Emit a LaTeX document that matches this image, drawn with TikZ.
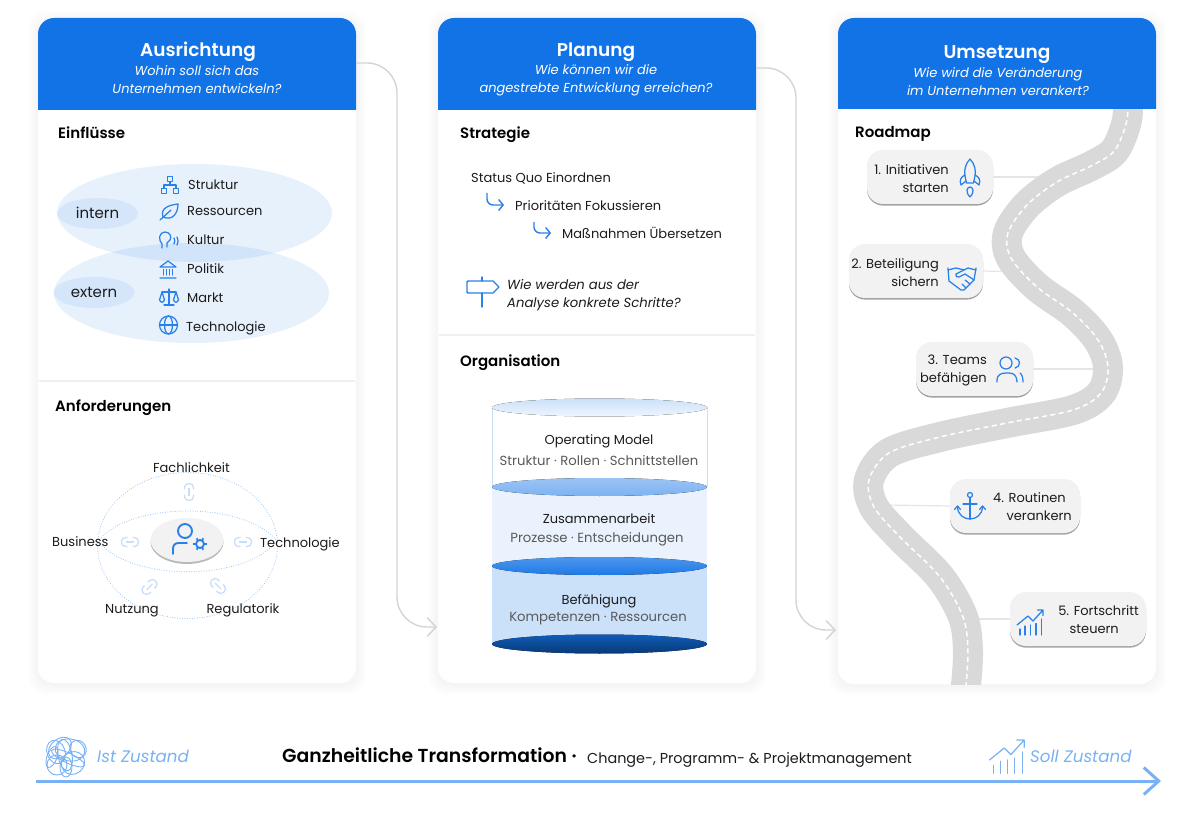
\documentclass[tikz,border=0pt]{standalone}
\usepackage{fontspec}
\setmainfont{Poppins}[BoldFont={Poppins SemiBold}]
\usepackage{tikz}
\usetikzlibrary{arrows.meta,shapes,shadows}
\definecolor{headblue}{HTML}{1273E6}
\definecolor{iconblue}{HTML}{2A80EA}
\definecolor{softblue}{HTML}{78B2F5}
\definecolor{palelink}{HTML}{C9DFF7}
\definecolor{roadgray}{HTML}{D9D9D9}
\definecolor{inktext}{HTML}{1C1C1C}
\tikzstyle{card}=[rectangle, fill=white, rounded corners=16pt, minimum width=318pt, inner sep=0pt]
\tikzstyle{heading}=[text=white, font=\fontsize{18.5}{20}\selectfont\bfseries, inner sep=0pt, text height=16pt, text depth=3pt]
\tikzstyle{question}=[text=white, align=center, font=\fontsize{13}{18}\selectfont\itshape, inner sep=0pt]
\tikzstyle{section}=[anchor=west, text=black, font=\fontsize{15}{16}\selectfont\bfseries, inner sep=0pt, text height=13pt, text depth=2pt]
\tikzstyle{item}=[anchor=west, text=inktext, font=\fontsize{13}{15}\selectfont, inner sep=0pt, text height=12pt, text depth=1pt]
\tikzstyle{itemc}=[text=inktext, font=\fontsize{13}{15}\selectfont, inner sep=0pt, text height=12pt, text depth=1pt]
\tikzstyle{tag}=[text=inktext, font=\fontsize{15}{17}\selectfont, inner sep=0pt, text height=12pt, text depth=1pt]
\tikzstyle{subitem}=[text=black!65, font=\fontsize{13.2}{15}\selectfont, inner sep=0pt, text height=12pt, text depth=1pt]
\tikzstyle{stepline}=[anchor=east, text=inktext, font=\fontsize{13}{15}\selectfont, inner sep=0pt, text height=12pt, text depth=1pt]
\tikzstyle{askline}=[anchor=west, text=inktext, align=left, font=\fontsize{13.2}{18}\selectfont\itshape, inner sep=0pt]
\tikzstyle{softlabel}=[anchor=west, text=softblue, font=\fontsize{16.7}{18}\selectfont\itshape, inner sep=0pt, text height=15pt, text depth=2pt]
\tikzstyle{blob}=[ellipse, fill=iconblue, fill opacity=.11, text opacity=1, inner sep=0pt]
\tikzstyle{smallblob}=[blob, fill opacity=.09, minimum width=81pt, minimum height=31pt]
\tikzstyle{dotline}=[draw=softblue!85, line width=1pt, line cap=round, dash pattern=on 0pt off 2.5pt]
\tikzstyle{divider}=[draw=black!6, line width=1.2pt]
\tikzstyle{flow}=[draw=black!17, line width=1.4pt, rounded corners=30pt, -{Straight Barb[length=9pt,width=19pt]}]
\tikzstyle{turn}=[draw=iconblue, line width=1.4pt, rounded corners=6pt, -{Straight Barb[length=4.5pt,width=11pt]}]
\tikzstyle{spur}=[draw=black!10, line width=1.2pt]
\tikzstyle{roadbed}=[draw=roadgray, line width=30pt]
\tikzstyle{roadline}=[draw=white, line width=1.5pt, dash pattern=on 5pt off 3.5pt]
\tikzstyle{bubble}=[rectangle, fill=black!5, rounded corners=16pt, minimum height=54pt, inner sep=0pt,
	drop shadow={shadow xshift=0pt, shadow yshift=-1.6pt, fill=black!55, opacity=.65}]
\tikzstyle{iconline}=[draw=iconblue, line width=1.25pt, line join=round, line cap=round]
\tikzstyle{linkline}=[draw=palelink, line width=1.3pt]
\tikzstyle{softline}=[draw=softblue, line width=.9pt]
\tikzset{
	orgicon/.pic={
		\draw[iconline] (-2.5,-8.5) rectangle (2.5,-3.5) (-8.5,3.5) rectangle (-3.5,8.5) (3.5,3.5) rectangle (8.5,8.5);
		\draw[iconline] (0,-3.5) -- (0,0) (-6,3.5) -- (-6,0) -- (6,0) -- (6,3.5);
	},
	leaficon/.pic={
		\draw[iconline] (-6,5) .. controls (-9,-4) and (0,-7) .. (9,-8) .. controls (9,2) and (3,9) .. (-6,5);
		\draw[iconline] (-9,8) -- (2,-2);
	},
	headicon/.pic={
		\draw[iconline] (-5,8) -- (-5,4) .. controls (-9,0) and (-8,-8) .. (-2,-8) .. controls (3,-8) and (5,-3) .. (3,0) -- (0,3) -- (0,7);
		\draw[iconline] (7,-2) .. controls (8,0) and (8,2) .. (7,4) (10,-3) .. controls (11.5,0) and (11.5,2) .. (10,5);
	},
	bankicon/.pic={
		\draw[iconline] (-8,-3) -- (0,-9) -- (8,-3) -- cycle (-8,8) -- (8,8);
		\foreach \x in {-4.5,-1.5,1.5,4.5} \draw[iconline] (\x,-.5) -- (\x,5);
	},
	scaleicon/.pic={
		\draw[iconline] (0,-8) -- (0,7) (-5,8) -- (5,8) (-7,-5) -- (7,-5);
		\draw[iconline] (-7,-5) -- (-9.5,3) .. controls (-8,6) and (-6,6) .. (-4.5,3) -- cycle;
		\draw[iconline] (7,-5) -- (9.5,3) .. controls (8,6) and (6,6) .. (4.5,3) -- cycle;
	},
	globeicon/.pic={
		\draw[iconline] (0,0) circle [radius=9];
		\draw[iconline] (0,0) ellipse [x radius=4, y radius=9];
		\draw[iconline] (-9,0) -- (9,0);
	},
	linkicon/.pic={
		\draw[linkline, rounded corners=4pt] (-2.5,-4.5) -- (-8.5,-4.5) -- (-8.5,4.5) -- (-2.5,4.5);
		\draw[linkline, rounded corners=4pt] (2.5,-4.5) -- (8.5,-4.5) -- (8.5,4.5) -- (2.5,4.5);
		\draw[linkline] (-4,0) -- (4,0);
	},
	rocketicon/.pic={
		\draw[iconline] (0,-19) .. controls (-5,-14) and (-6,-7) .. (-5,-2) -- (-3.5,5) -- (3.5,5) -- (5,-2) .. controls (6,-7) and (5,-14) .. (0,-19);
		\draw[iconline] (-5,-3) .. controls (-9,-1) and (-11,2) .. (-9,7) -- (-4,3) (5,-3) .. controls (9,-1) and (11,2) .. (9,7) -- (4,3);
		\draw[iconline] (0,19) .. controls (-5,14) and (-3,9) .. (0,9) .. controls (3,9) and (5,14) .. (0,19);
	},
	shakeicon/.pic={
		\draw[iconline] (-14,-9) -- (-13,4) -- (-1,13) .. controls (1,14) and (3,13) .. (4,11) -- (12,3) -- (14,-9);
		\draw[iconline] (-14,-7) -- (-6,-9) -- (2,-7) -- (6,-9) -- (14,-7);
		\draw[iconline] (2,-7) -- (-6,-3) .. controls (-7,-1) and (-5,1) .. (-3,0) -- (3,-3) -- (12,3);
		\draw[iconline] (8,7) -- (3,3) (4,11) -- (0,7);
	},
	usersicon/.pic={
		\draw[iconline] (-4,-7) circle [radius=6];
		\draw[iconline] (5,-12) .. controls (11,-11) and (11,-3) .. (5,-2);
		\draw[iconline] (-13,12) -- (-13,10) .. controls (-13,5) and (-9,3) .. (-4,3) -- (-1,3) .. controls (4,3) and (7,6) .. (7,12);
		\draw[iconline] (10,3) .. controls (12,4) and (13,8) .. (13,12);
	},
	anchoricon/.pic={
		\draw[iconline] (0,-10) circle [radius=2.5];
		\draw[iconline] (0,-7.5) -- (0,14) (-7,-1) -- (7,-1);
		\draw[iconline] (-12.5,2) .. controls (-12,10) and (-6,14) .. (0,14) .. controls (6,14) and (12,10) .. (12.5,2);
		\draw[iconline] (-15.5,4.5) -- (-12.5,1) -- (-9.5,4.5) (15.5,4.5) -- (12.5,1) -- (9.5,4.5);
	},
	growthicon/.pic={
		\draw[iconline] (-12,3) -- (-1,-6) -- (4,-1) -- (14,-12) (8.5,-12) -- (14,-12) -- (14,-6.5);
		\foreach \x/\y in {-9/7, -4/4, 1.5/3, 7/1.5, 12.5/-3} \draw[iconline] (\x,\y) -- (\x,13);
	},
}

\begin{document}
\begin{tikzpicture}[x=1pt, y=-1pt]
	\useasboundingbox (0,0) rectangle (1203,834);
	
	% First we draw the soft shadows and the cards
	\foreach \xa/\xb/\yb in {38/356/683, 438/756/683, 838/1156/684}
	\foreach \s in {10,8,6,4,2}
	\fill[black, opacity=.008, rounded corners=18pt] (\xa-\s,18-\s+3) rectangle (\xb+\s,\yb+\s+1);
	
	\foreach \pos/\label/\high in {{(197,350.5)/cardone/665}, {(597,350.5)/cardtwo/665}, {(997,351)/cardthree/666}}
	\node[card, minimum height=\high pt] (\label) at \pos {};
	
	% Blue header of each card
	\foreach \xa/\xb/\yb in {38/356/110, 438/756/110, 838/1156/109}
	\fill[headblue] (\xa,\yb) [rounded corners=16pt] -- (\xa,18) -- (\xb,18) [sharp corners] -- (\xb,\yb) -- cycle;
	
	\node[heading] (aus) at (198,50) {Ausrichtung};
	\node[question] (ausq) at (197,80) {Wohin soll sich das\\Unternehmen entwickeln?};
	\node[heading] (pla) at (596,50) {Planung};
	\node[question] (plaq) at (596,80.5) {Wie können wir die\\angestrebte Entwicklung erreichen?};
	\node[heading] (ums) at (997,52) {Umsetzung};
	\node[question] (umsq) at (998,82) {Wie wird die Veränderung\\im Unternehmen verankert?};
	
	% Connect the cards
	\coordinate (outone) at (356,63);
	\coordinate (midone) at (397,345);
	\coordinate (inone) at (437,627);
	\coordinate (outtwo) at (756,68);
	\coordinate (midtwo) at (796,345);
	\coordinate (intwo) at (836,630);
	\path[flow] (outone) -| (midone) |- (inone);
	\path[flow] (outtwo) -| (midtwo) |- (intwo);
	
	\path[divider] (39,381) -- (355,381);
	\path[divider] (439,335) -- (755,335);
	
	\foreach \pos/\label/\name in {
		{(58,133)/einfl/Einflüsse}, {(55,406)/anford/Anforderungen}, {(460,133)/strat/Strategie},
		{(460,361)/orga/Organisation}, {(855,132)/roadm/Roadmap}}
	\node[section] (\label) at \pos {\name};
	
	% Einfluesse
	\node[blob, minimum width=275pt, minimum height=98pt] (internbig) at (194.5,213) {};
	\node[blob, minimum width=275pt, minimum height=100pt] (externbig) at (191.5,293) {};
	\node[smallblob] (intern) at (97.5,213.5) {};
	\node[smallblob] (extern) at (94,292.5) {};
	\node[tag] (internt) at (intern) {intern};
	\node[tag] (externt) at (extern) {extern};
	\foreach \pos/\label/\name in {
		{(188,184)/struktur/Struktur}, {(187,210)/ressourcen/Ressourcen}, {(187,239)/kultur/Kultur},
		{(187,268)/politik/Politik}, {(187,297)/markt/Markt}, {(186,326)/techno/Technologie}}
	\node[item] (\label) at \pos {\name};
	\pic at (170,185) {orgicon};
	\pic at (169,212) {leaficon};
	\pic at (167,240) {headicon};
	\pic at (168,270) {bankicon};
	\pic at (169,297) {scaleicon};
	\pic at (168.5,325) {globeicon};
	
	% Anforderungen
	\node[ellipse, dotline, minimum width=180pt, minimum height=146pt, inner sep=0pt] (sphere) at (187.5,545.5) {};
	\path[dotline] (98,541) .. controls (130,501) and (245,501) .. (277,541) .. controls (245,582) and (130,582) .. (98,541);
	\node[ellipse, fill=black!5, minimum width=73pt, minimum height=44pt, inner sep=0pt,
		drop shadow={shadow xshift=0pt, shadow yshift=-2pt, fill=black!45, opacity=.6}] (center) at (187,540) {};
	\draw[iconblue, line width=1.9pt] (185,531) circle [radius=7];
	\draw[iconblue, line width=1.9pt, line cap=round] (173,554) -- (173,549) .. controls (173,545) and (175,543) .. (179,543) -- (187,543);
	\draw[iconblue, line width=1.8pt] (200,544) circle [radius=4];
	\foreach \a in {0,60,...,300}
	\draw[iconblue, line width=1.8pt] (200,544) ++(\a:4) -- ++(\a:2.6);
	\foreach \pos/\angle in {{(189,492)/90}, {(130,542)/0}, {(243,542)/0}, {(149.5,587)/45}, {(218,586)/-45}}
	\pic[rotate=\angle] at \pos {linkicon};
	\node[itemc] (fach) at (191.5,467) {Fachlichkeit};
	\node[item] (busi) at (52,541) {Business};
	\node[item] (tech) at (260,542) {Technologie};
	\node[itemc] (nutz) at (132,608) {Nutzung};
	\node[itemc] (regu) at (243,608) {Regulatorik};
	
	% Strategie
	\node[item] (status) at (471,177) {Status Quo Einordnen};
	\node[item] (prio) at (515,205) {Prioritäten Fokussieren};
	\node[item] (mass) at (562,233) {Maßnahmen Übersetzen};
	\coordinate (turnone) at (487,193);
	\coordinate (turnoneend) at (504,205);
	\coordinate (turntwo) at (534,222);
	\coordinate (turntwoend) at (551,233);
	\path[turn] (turnone) |- (turnoneend);
	\path[turn] (turntwo) |- (turntwoend);
	\draw[iconline, line width=1.4pt] (482,277) -- (482,281) (482,293) -- (482,307);
	\draw[iconline, line width=1.4pt] (467,283) -- (467,291) .. controls (467,293) .. (469,293) -- (493,293) -- (499,287) -- (493,281) -- (469,281) .. controls (467,281) .. (467,283);
	\node[askline] (frage) at (507,295.5) {Wie werden aus der\\Analyse konkrete Schritte?};
	
	% Organisation: the stacked cylinder
	\fill[white] (492,407.5) rectangle (707,487);
	\draw[palelink, line width=.6pt] (492,407.5) -- (492,487) (707,407.5) -- (707,487);
	\fill[headblue!9] (492,487) rectangle (707,566);
	\fill[headblue!22] (492,566) rectangle (707,644);
	\fill[top color=headblue!22, bottom color=headblue!7] (599.5,407.5) ellipse [x radius=107.5, y radius=9];
	\fill[top color=headblue!42, bottom color=headblue!55] (599.5,487) ellipse [x radius=107.5, y radius=9];
	\fill[top color=headblue!75, bottom color=headblue!95] (599.5,566) ellipse [x radius=107.5, y radius=9];
	\fill[top color=headblue!80!black, bottom color=headblue!50!black] (599.5,644) ellipse [x radius=107.5, y radius=9.5];
	\foreach \pos/\label/\name in {{(599,439)/opmod/Operating Model}, {(599,518)/zusam/Zusammenarbeit}, {(599,599)/befae/Befähigung}}
	\node[itemc] (\label) at \pos {\name};
	\foreach \pos/\label/\name in {
		{(599,460)/opsub/Struktur · Rollen · Schnittstellen}, {(597,537)/zusub/Prozesse · Entscheidungen},
		{(598,616)/besub/Kompetenzen · Ressourcen}}
	\node[subitem] (\label) at \pos {\name};
	
	% Roadmap: spurs first, then the road on top of them
	\foreach \pos/\label/\wide in {
		{(930,177)/stepone/126}, {(916,271)/steptwo/134}, {(974.5,369)/stepthree/117},
		{(1015,506)/stepfour/130}, {(1078,619)/stepfive/136}}
	\node[bubble, minimum width=\wide pt] (\label) at \pos {};
	\coordinate (endone) at (1060,177);
	\coordinate (endtwo) at (1020,272);
	\coordinate (endthree) at (1100,369);
	\coordinate (endfour) at (885,505);
	\coordinate (endfive) at (975,619);
	\foreach \source/\dest in {
		stepone.east/endone, steptwo.east/endtwo, stepthree.east/endthree, stepfour.west/endfour, stepfive.west/endfive}
	\path[spur] (\source) -- (\dest);
	\begin{scope}
		\clip (840,110) rectangle (1155,684);
		\foreach \kind in {roadbed, roadline}
		\draw[\kind] plot[smooth, tension=.55] coordinates {
			(1127,95) (1127,120) (1115,150) (1093,165) (1057,182) (1027,205) (1008,233) (1011,258) (1037,287)
			(1073,313) (1098,340) (1108,367) (1101,393) (1073,410) (1007,423) (940,437) (889,453) (869,480)
			(874,507) (900,537) (940,577) (963,617) (968,653) (965,695)};
	\end{scope}
	\foreach \pos/\label/\name in {
		{(949,169)/tone/1. Initiativen}, {(949,187)/ttone/starten}, {(939,263)/ttwo/2. Beteiligung}, {(939,281)/tttwo/sichern},
		{(987,359)/tthree/3. Teams}, {(987,377)/ttthree/befähigen}, {(1066,497)/tfour/4. Routinen}, {(1072,515)/ttfour/verankern},
		{(1139,610)/tfive/5. Fortschritt}, {(1119,628)/ttfive/steuern}}
	\node[stepline] (\label) at \pos {\name};
	\pic at (970,178) {rocketicon};
	\pic at (962,277) {shakeicon};
	\pic at (1010,370) {usersicon};
	\pic at (970,505) {anchoricon};
	\pic at (1029,622) {growthicon};
	
	% Bottom line
	\coordinate (start) at (36,781);
	\coordinate (finish) at (1161,781);
	\path[draw=softblue, line width=3pt, -{Straight Barb[length=15pt,width=27pt]}] (start) -- (finish);
	\foreach \x/\y/\rx/\ry/\a in {
		56/752/9/12/20, 70/750/15/11/-10, 57/765/10/10/0, 73/763/12/11/40, 65/755/7/16/10,
		78/749/8/9/30, 60/748/13/9/40, 66/767/6/10/0, 52/757/5/11/-20, 68/758/18/5/-25}
	\draw[softline, rotate around={\a:(\x,\y)}] (\x,\y) ellipse [x radius=\rx, y radius=\ry];
	\node[softlabel] (ist) at (97,756) {Ist Zustand};
	\node[softlabel] (soll) at (1030,756) {Soll Zustand};
	\pic[iconline/.append style={draw=softblue}, scale=1.33] at (1005.5,756) {growthicon};
	\node[anchor=base west, inner sep=0pt, text=black, font=\fontsize{18.8}{20}\selectfont\bfseries] (title) at (282,762.5) {Ganzheitliche Transformation ·};
	\node[anchor=base west, inner sep=0pt, text=inktext, font=\fontsize{14.4}{16}\selectfont] (subtitle) at (587,763) {Change-, Programm- \& Projektmanagement};
\end{tikzpicture}
\end{document}
